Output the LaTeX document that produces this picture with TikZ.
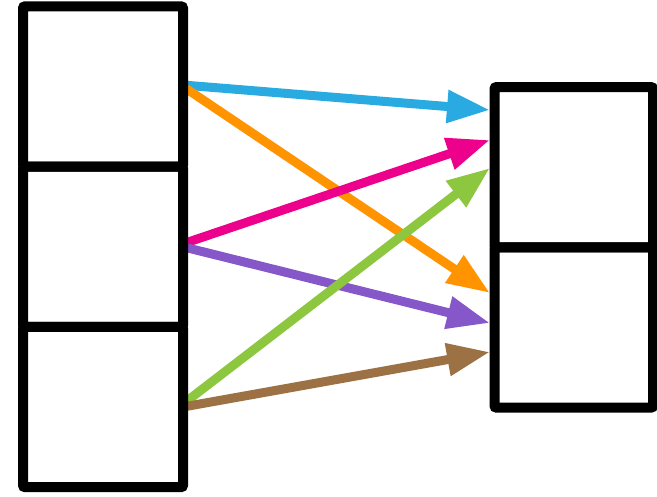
\documentclass[tikz,border=0pt]{standalone}
\usetikzlibrary{arrows.meta,backgrounds}
\definecolor{cblue}{RGB}{41,171,226}
\definecolor{corange}{RGB}{255,147,0}
\definecolor{cmagenta}{RGB}{236,0,140}
\definecolor{cpurple}{RGB}{133,87,200}
\definecolor{cgreen}{RGB}{141,198,63}
\definecolor{cbrown}{RGB}{156,113,68}
\begin{document}
\begin{tikzpicture}[x=1pt,y=1pt,
  cell/.style={draw=black,line width=10pt,rounded corners=2pt,inner sep=0pt,outer sep=0pt,
    minimum width=160pt,minimum height=160.3pt},
  link/.style={line width=9pt,-{Triangle[length=43pt,width=31pt]}}]
\useasboundingbox (0,0) rectangle (657,-497);
% left column
\node[cell] (L1) at (103,-86.5) {};
\node[cell] (L2) at (103,-246.8) {};
\node[cell] (L3) at (103,-407) {};
% right column
\node[cell,minimum width=158.5pt] (R1) at (573.75,-167.2) {};
\node[cell,minimum width=158.5pt] (R2) at (573.75,-327.5) {};
% arrow tip coordinates
\coordinate (tB) at (490,-110);
\coordinate (tM) at (490,-140);
\coordinate (tG) at (490,-168);
\coordinate (tO) at (490,-293);
\coordinate (tP) at (490,-323);
\coordinate (tBr) at (490,-352);
% arrows
\begin{scope}[on background layer]
\draw[link,cblue] ([yshift=1.5pt]L1.east) -- (tB);
\draw[link,corange] (L1.east) -- (tO);
\draw[link,cmagenta] ([yshift=3pt]L2.east) -- (tM);
\draw[link,cpurple] (L2.east) -- (tP);
\draw[link,cgreen] ([yshift=3pt]L3.east) -- (tG);
\draw[link,cbrown] (L3.east) -- (tBr);
\end{scope}
\end{tikzpicture}
\end{document}
